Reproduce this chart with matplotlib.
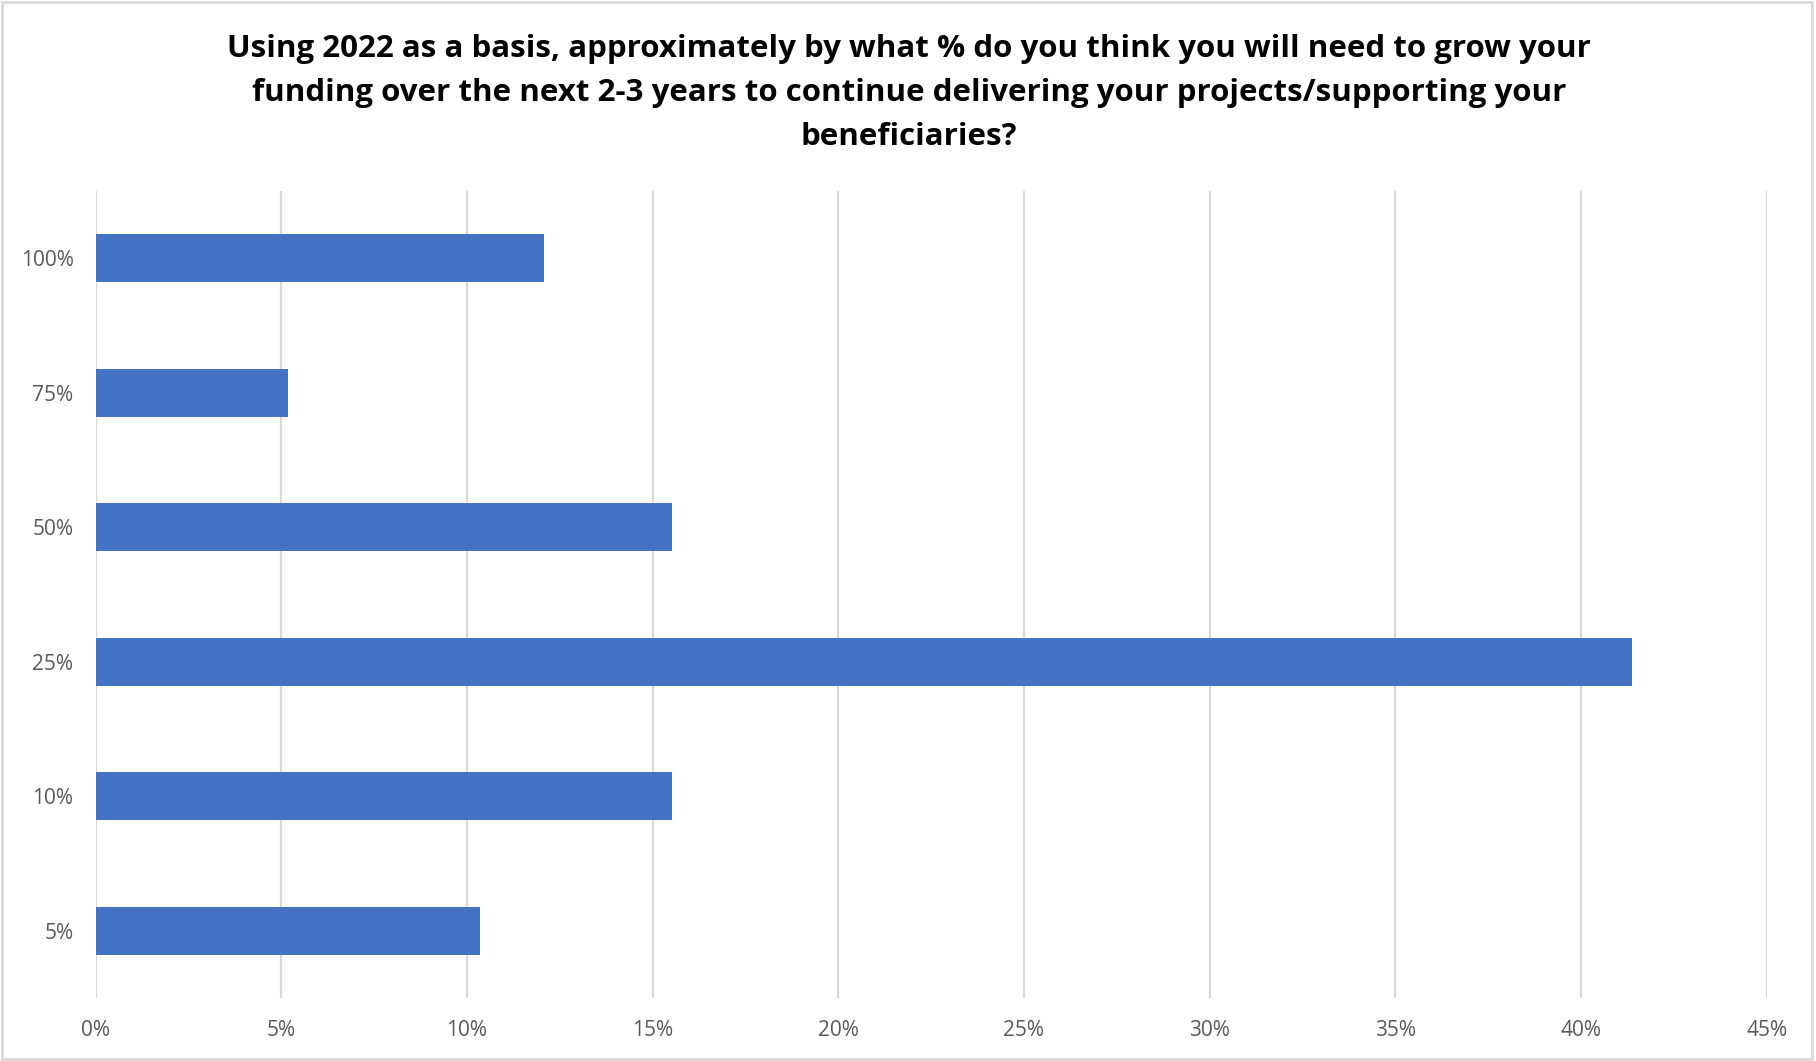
import matplotlib
matplotlib.use("Agg")
import matplotlib.pyplot as plt
from matplotlib.patches import Rectangle
from matplotlib.ticker import FuncFormatter, MultipleLocator

# survey answers: required funding growth over 2-3 years (share of respondents, %)
categories = ["5%", "10%", "25%", "50%", "75%", "100%"]
shares = [10.34, 15.52, 41.38, 15.52, 5.17, 12.07]

title = ("Using 2022 as a basis, approximately by what % do you think you will need to grow your\n"
         "funding over the next 2-3 years to continue delivering your projects/supporting your\n"
         "beneficiaries?")

BAR = "#4472C4"
GRID = "#D9D9D9"
LABEL = "#595959"

fig = plt.figure(figsize=(18.16, 10.61), dpi=100)
ax = fig.add_axes([0.0527, 0.0594, 0.9201, 0.7606])

ypos = range(len(categories))
ax.barh(ypos, shares, height=0.356, color=BAR, zorder=3)

ax.set_xlim(0, 45)
ax.set_ylim(-0.5, len(categories) - 0.5)
ax.xaxis.set_major_locator(MultipleLocator(5))
ax.xaxis.set_major_formatter(FuncFormatter(lambda v, _: f"{v:.0f}%"))
ax.set_yticks(list(ypos))
ax.set_yticklabels(categories)
ax.grid(axis="x", color=GRID, linewidth=1.6, zorder=0)
for s in ax.spines.values():
    s.set_visible(False)
ax.tick_params(axis="both", length=0, labelsize=15, labelcolor=LABEL)
ax.tick_params(axis="y", pad=16)
ax.tick_params(axis="x", pad=16)
for lab in ax.get_xticklabels() + ax.get_yticklabels():
    lab.set_fontfamily(["Open Sans", "DejaVu Sans"])

fig.text(0.5005, 0.968, title, ha="center", va="top", fontsize=22.5,
         fontweight="bold", family=["Open Sans", "DejaVu Sans"],
         linespacing=1.62)

# thin frame round the whole chart
fig.patches.append(Rectangle((0.001, 0.002), 0.997, 0.996, transform=fig.transFigure,
                             fill=False, edgecolor=GRID, linewidth=2))

fig.savefig("out.png", dpi=100)
